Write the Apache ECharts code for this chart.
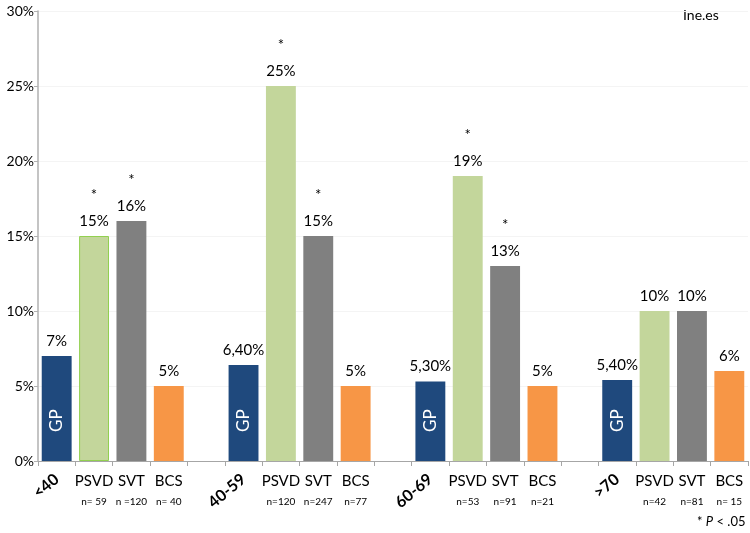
<!DOCTYPE html>
<html>
<head>
<meta charset="utf-8">
<script src="https://cdn.jsdelivr.net/npm/echarts@6/dist/echarts.min.js"></script>
<style>html,body{margin:0;padding:0;background:#fff}#chart{width:750px;height:533px}</style>
</head>
<body>
<div id="chart"></div>
<script>
// ---- data ----
const groups = ['<40', '40-59', '60-69', '>70'];
const seriesNames = ['GP', 'PSVD', 'SVT', 'BCS'];
const gpValues = [7, 6.4, 5.3, 5.4];
const psvdValues = [15, 25, 19, 10];
const svtValues = [16, 15, 13, 10];
const bcsValues = [5, 5, 5, 6];
const psvdN = ['n= 59', 'n=120', 'n=53', 'n=42'];
const svtN = ['n =120', 'n=247', 'n=91', 'n=81'];
const bcsN = ['n= 40', 'n=77', 'n=21', 'n= 15'];
const psvdSignificant = [true, true, true, false];
const svtSignificant = [true, true, true, false];
const yTicks = [0, 5, 10, 15, 20, 25, 30];

// ---- build ----
const colors = { GP: '#1F497D', PSVD: '#C3D69B', SVT: '#808080', BCS: '#F79646' };
const valuesBy = { GP: gpValues, PSVD: psvdValues, SVT: svtValues, BCS: bcsValues };
const nBy = { GP: null, PSVD: psvdN, SVT: svtN, BCS: bcsN };
const sigBy = { GP: null, PSVD: psvdSignificant, SVT: svtSignificant, BCS: null };
const font = 'Lato, "Open Sans", sans-serif';

function fmt(v) {
  return Number.isInteger(v) ? v + '%' : v.toFixed(2).replace('.', ',') + '%';
}

const slots = [];
groups.forEach((g, gi) => {
  seriesNames.forEach(s => slots.push({ type: 'bar', group: gi, name: s }));
  if (gi < groups.length - 1) slots.push({ type: 'gap' });
});
const categories = slots.map((s, i) => 'c' + i);

const mainData = slots.map(s => {
  if (s.type === 'gap') return '-';
  const v = valuesBy[s.name][s.group];
  const sig = sigBy[s.name] && sigBy[s.name][s.group];
  const item = {
    value: v,
    itemStyle: { color: colors[s.name] },
    label: {
      formatter: sig ? '{s|*}\n{v|' + fmt(v) + '}' : '{v|' + fmt(v) + '}'
    }
  };
  if (s.name === 'PSVD' && s.group === 0) {
    item.itemStyle.borderColor = '#92D050';
    item.itemStyle.borderWidth = 1;
  }
  return item;
});
const gpData = slots.map(s => (s.type === 'bar' && s.name === 'GP') ? gpValues[s.group] : '-');

const option = {
  animation: false,
  backgroundColor: '#fff',
  textStyle: { fontFamily: font },
  grid: { left: 38, right: 2, top: 11, bottom: 72, containLabel: false },
  xAxis: [
    {
      type: 'category',
      data: categories,
      position: 'bottom',
      axisLine: { lineStyle: { color: '#a6a6a6', width: 1 } },
      axisTick: { show: true, interval: 0, length: 5, lineStyle: { color: '#a6a6a6' } },
      axisLabel: {
        interval: 0,
        margin: 9,
        formatter: (val, idx) => {
          const s = slots[idx];
          if (!s || s.type === 'gap' || s.name === 'GP') return '';
          return '{name|' + s.name + '}\n{n|' + nBy[s.name][s.group] + '}';
        },
        rich: {
          name: { fontSize: 15, lineHeight: 22, color: '#000', fontFamily: font },
          n: { fontSize: 10, lineHeight: 20, color: '#000', fontFamily: font }
        }
      }
    },
    {
      type: 'category',
      data: categories,
      position: 'bottom',
      axisLine: { show: false },
      axisTick: { show: false },
      axisLabel: {
        interval: 0,
        rotate: 40,
        margin: 16,
        fontSize: 16,
        fontWeight: 'bold',
        color: '#000',
        fontFamily: font,
        formatter: (val, idx) => {
          const s = slots[idx];
          return (s && s.type === 'bar' && s.name === 'GP') ? groups[s.group] : '';
        }
      }
    }
  ],
  yAxis: {
    type: 'value',
    min: yTicks[0],
    max: yTicks[yTicks.length - 1],
    interval: 5,
    axisLine: { show: true, lineStyle: { color: '#b0b0b0', width: 1.5 } },
    axisTick: { show: true, length: 4, lineStyle: { color: '#b0b0b0' } },
    axisLabel: { formatter: '{value}%', fontSize: 14, color: '#000', margin: 4, fontFamily: font },
    splitLine: { show: true, lineStyle: { color: '#f4f4f4', width: 1 } }
  },
  series: [
    {
      type: 'bar',
      name: 'values',
      xAxisIndex: 0,
      data: mainData,
      barCategoryGap: '20%',
      barGap: '-100%',
      label: {
        show: true,
        position: 'top',
        distance: 6,
        rich: {
          s: { fontSize: 15, lineHeight: 34, color: '#000', fontFamily: font },
          v: { fontSize: 15, lineHeight: 18, color: '#000', fontFamily: font }
        }
      }
    },
    {
      type: 'bar',
      name: 'GP',
      xAxisIndex: 0,
      data: gpData,
      barCategoryGap: '20%',
      barGap: '-100%',
      itemStyle: { color: 'rgba(0,0,0,0)' },
      silent: true,
      label: {
        show: true,
        formatter: 'GP',
        position: 'insideBottom',
        distance: 29,
        rotate: 90,
        align: 'left',
        verticalAlign: 'middle',
        color: '#fff',
        fontSize: 17,
        fontFamily: font
      }
    }
  ],
  graphic: [
    {
      type: 'text',
      left: 683,
      top: 8,
      style: { text: 'Ine.es', fontSize: 14, fill: '#000', fontFamily: font }
    },
    {
      type: 'text',
      left: 697,
      top: 515,
      style: {
        text: '{a|* }{p|P}{a| < .05}',
        rich: {
          a: { fontSize: 13, fill: '#000', fontFamily: font },
          p: { fontSize: 13, fontStyle: 'italic', fill: '#000', fontFamily: font }
        }
      }
    }
  ]
};

const chart = echarts.init(document.getElementById('chart'));
chart.setOption(option);
</script>
</body>
</html>
